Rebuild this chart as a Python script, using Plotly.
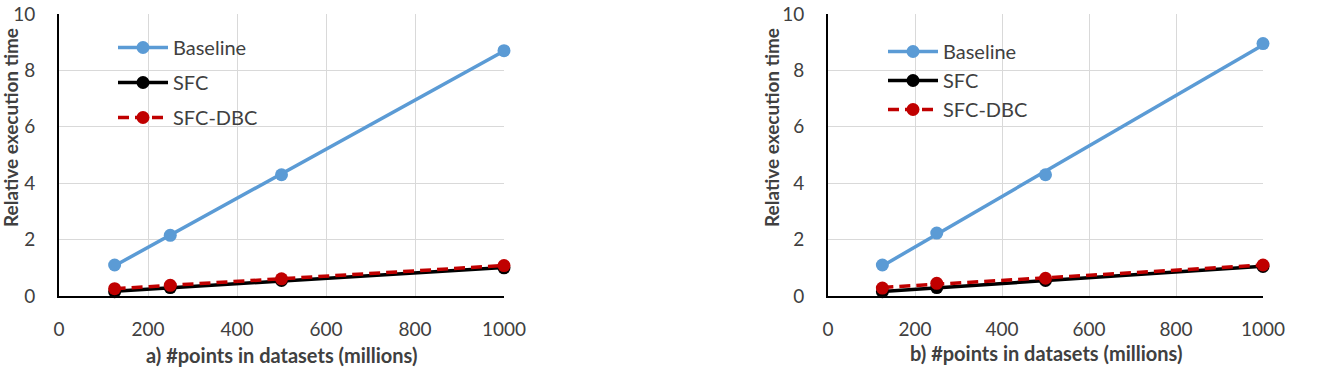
import numpy as np
import plotly.graph_objects as go

# ---- data ----
points_millions = [125, 250, 500, 1000]

a_baseline = [1.1, 2.15, 4.3, 8.7]
a_sfc = [0.15, 0.3, 0.55, 1.0]
a_sfc_dbc = [0.26, 0.38, 0.61, 1.08]

b_baseline = [1.1, 2.23, 4.3, 8.95]
b_sfc = [0.15, 0.3, 0.55, 1.05]
b_sfc_dbc = [0.28, 0.45, 0.63, 1.1]

series_names = ["Baseline", "SFC", "SFC-DBC"]
x_ticks = [0, 200, 400, 600, 800, 1000]
y_ticks = [0, 2, 4, 6, 8, 10]

# ---- style ----
FONT = "Lato"
colors = {"Baseline": "#5B9BD5", "SFC": "#000000", "SFC-DBC": "#C00000"}
dashes = {"Baseline": "solid", "SFC": "solid", "SFC-DBC": "11px,6px"}
LW = 3.5
MS = 13

fig = go.Figure()

panels = [
    ("x", "y", "legend", {"Baseline": a_baseline, "SFC": a_sfc, "SFC-DBC": a_sfc_dbc}),
    ("x2", "y2", "legend2", {"Baseline": b_baseline, "SFC": b_sfc, "SFC-DBC": b_sfc_dbc}),
]

xs = np.array(points_millions, dtype=float)
for xa, ya, leg, data in panels:
    for name in series_names:
        ys = np.array(data[name], dtype=float)
        slope, intercept = np.polyfit(xs, ys, 1)
        fit_x = [xs.min(), xs.max()]
        fit_y = [slope * v + intercept for v in fit_x]
        # trendline
        fig.add_trace(go.Scatter(
            x=fit_x, y=fit_y, mode="lines", xaxis=xa, yaxis=ya,
            line=dict(color=colors[name], width=LW, dash=dashes[name]),
            showlegend=False, hoverinfo="skip", cliponaxis=False))
        # markers
        fig.add_trace(go.Scatter(
            x=xs, y=ys, mode="markers", xaxis=xa, yaxis=ya,
            marker=dict(color=colors[name], size=MS),
            showlegend=False, cliponaxis=False))
        # legend entry
        fig.add_trace(go.Scatter(
            x=[None], y=[None], mode="lines+markers", xaxis=xa, yaxis=ya,
            name=name, legend=leg, legendgroup=leg + name,
            line=dict(color=colors[name], width=LW, dash=dashes[name]),
            marker=dict(color=colors[name], size=MS)))

W, H = 1330, 375
def px_x(p):
    return p / W
def px_y(p):
    return 1 - p / H

left_dom = [px_x(59), px_x(504)]
right_dom = [px_x(828), px_x(1263)]
y_dom = [px_y(296), px_y(14)]

axis_common_x = dict(
    range=[0, 1000], tickvals=x_ticks, showgrid=True, gridcolor="#D9D9D9",
    gridwidth=1.3, zeroline=False, showline=True, linecolor="#000000", linewidth=2,
    ticks="", ticklabelstandoff=15, tickfont=dict(family=FONT, size=19, color="#404040"),
    automargin=False, fixedrange=True)
axis_common_y = dict(
    range=[0, 10], tickvals=y_ticks, showgrid=True, gridcolor="#D9D9D9",
    gridwidth=1.3, zeroline=False, showline=True, linecolor="#000000", linewidth=2,
    ticks="", ticklabelstandoff=18, tickfont=dict(family=FONT, size=19, color="#404040"),
    automargin=False, fixedrange=True)

legend_common = dict(
    font=dict(family=FONT, size=20, color="#404040"), bgcolor="rgba(0,0,0,0)",
    borderwidth=0, traceorder="grouped", yanchor="top",
    xanchor="left", itemwidth=50)

fig.update_layout(
    width=W, height=H, margin=dict(l=0, r=0, t=0, b=0, autoexpand=False),
    paper_bgcolor="white", plot_bgcolor="white",
    font=dict(family=FONT, color="#404040"),
    xaxis=dict(domain=left_dom, anchor="y", **axis_common_x),
    yaxis=dict(domain=y_dom, anchor="x", **axis_common_y),
    xaxis2=dict(domain=right_dom, anchor="y2", **axis_common_x),
    yaxis2=dict(domain=y_dom, anchor="x2", **axis_common_y),
    legend=dict(x=px_x(113), y=px_y(28), tracegroupgap=6, **legend_common),
    legend2=dict(x=px_x(883), y=px_y(32), tracegroupgap=0, **legend_common),
    showlegend=True,
)

annots = [
    dict(text="<b>a) #points in datasets (millions)</b>", x=(59 + 504) / 2 / W, y=px_y(355)),
    dict(text="<b>b) #points in datasets (millions)</b>", x=(828 + 1263) / 2 / W, y=px_y(353)),
]
for a in annots:
    fig.add_annotation(xref="paper", yref="paper", x=a["x"], y=a["y"], text=a["text"],
                       showarrow=False, xanchor="center", yanchor="middle",
                       font=dict(family=FONT, size=20, color="#404040"))

for xc in (11, 772):
    fig.add_annotation(xref="paper", yref="paper", x=px_x(xc), y=px_y(128),
                       text="<b>Relative execution time</b>", textangle=-90,
                       showarrow=False, xanchor="center", yanchor="middle",
                       font=dict(family=FONT, size=19, color="#404040"))

fig.write_html("out.html")
